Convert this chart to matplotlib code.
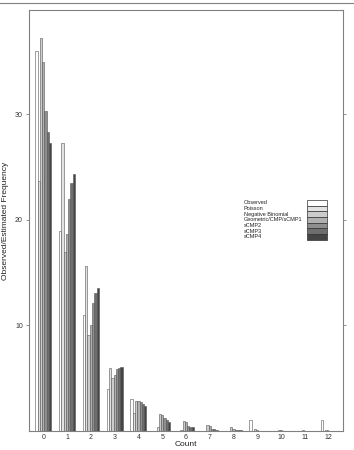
import numpy as np
import matplotlib
matplotlib.use("Agg")
import matplotlib.pyplot as plt
from matplotlib.patches import Rectangle
from matplotlib.lines import Line2D

plt.rcParams['font.family'] = ['Liberation Sans', 'DejaVu Sans']

# counts on the x axis
counts = list(range(13))

# observed and fitted frequencies
observed = [36, 19, 11, 4, 3, 0, 0, 0, 0, 1, 0, 0, 1]
poisson = [23.7, 27.3, 15.6, 6.0, 1.75, 0.40, 0.08, 0.01, 0, 0, 0, 0, 0]
negbin = [37.2, 17.0, 9.1, 5.0, 2.87, 1.65, 0.97, 0.58, 0.35, 0.21, 0.13, 0.08, 0.05]
geometric = [35.0, 18.7, 10.0, 5.35, 2.85, 1.52, 0.81, 0.43, 0.23, 0.12, 0.07, 0.04, 0.02]
scmp2 = [30.3, 22.0, 12.1, 5.9, 2.75, 1.2, 0.5, 0.2, 0.08, 0.03, 0.01, 0, 0]
scmp3 = [28.3, 23.5, 13.1, 6.0, 2.55, 1.05, 0.42, 0.17, 0.07, 0.02, 0.01, 0, 0]
scmp4 = [27.3, 24.4, 13.6, 6.1, 2.4, 0.9, 0.35, 0.13, 0.05, 0.02, 0, 0, 0]

series = [observed, poisson, negbin, geometric, scmp2, scmp3, scmp4]
labels = ["Observed", "Poisson", "Negative Binomial", "Geometric/CMP/sCMP1",
          "sCMP2", "sCMP3", "sCMP4"]
colors = ["#ffffff", "#e2e2e2", "#cccccc", "#b0b0b0", "#8e8e8e", "#6e6e6e", "#454545"]

W, H = 354, 450
fig = plt.figure(figsize=(W / 100, H / 100), dpi=100)
ax = fig.add_axes([29 / W, 1 - 431 / H, (343 - 29) / W, (431 - 10) / H])

# grouped bars, lattice style: group width 2/3
n = len(series)
bw = (2 / 3) / n
x = np.array(counts)
for i, (vals, c) in enumerate(zip(series, colors)):
    ax.bar(x - 1 / 3 + bw * (i + 0.5), vals, width=bw, color=c,
           edgecolor="#555555", linewidth=0.4)

ax.set_xlim(-0.6, 12.6)
ax.set_ylim(0, 39.9)
ax.set_xticks(counts)
ax.set_xticklabels([str(c) for c in counts])
ax.set_yticks([10, 20, 30])
ax.tick_params(axis='y', left=True, right=True, direction='out', length=2.5,
               width=0.6, color="#808080", labelsize=5, labelcolor="#333333", pad=2)
ax.tick_params(axis='x', direction='out', length=0, labelsize=5,
               labelcolor="#333333", pad=2.5)
for s in ax.spines.values():
    s.set_color("#808080")
    s.set_linewidth(0.8)

ax.set_xlabel("Count", fontsize=6, color="#222222", labelpad=0)
ax.set_ylabel("Observed/Estimated Frequency", fontsize=6, color="#222222", labelpad=4)

# legend drawn as key boxes on the right
y0 = 203
step = 5.65
for i, (lab, c) in enumerate(zip(labels, colors)):
    yy = y0 + i * step
    fig.text(244 / W, 1 - yy / H, lab, fontsize=4.0, color="#222222", va='center', ha='left')
    fig.add_artist(Rectangle((307 / W, 1 - (yy + step / 2) / H), 20 / W, step / H,
                             transform=fig.transFigure, facecolor=c,
                             edgecolor="#333333", linewidth=0.5))

# thin rule across the top
fig.add_artist(Line2D([0, 1], [1 - 3 / H] * 2, transform=fig.transFigure,
                      color="#808080", linewidth=0.8))

fig.savefig("out.png", dpi=100)
